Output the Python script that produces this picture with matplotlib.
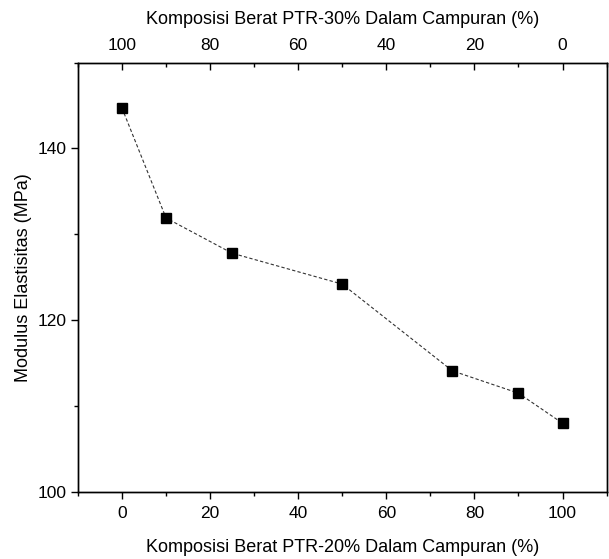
import matplotlib.pyplot as plt
from matplotlib.ticker import MultipleLocator

plt.rcParams['font.family'] = ['Liberation Sans', 'DejaVu Sans']
plt.rcParams['font.size'] = 13

# composition of PTR-20% in the blend (%) and measured modulus
ptr20 = [0, 10, 25, 50, 75, 90, 100]
modulus = [144.7, 131.9, 127.8, 124.2, 114.1, 111.5, 108.0]

fig = plt.figure(figsize=(6.09, 5.59), dpi=100)
ax = fig.add_axes([0.128, 0.120, 0.868, 0.768])

ax.plot(ptr20, modulus, color='#333333', lw=0.8, ls=(0, (3, 2)),
        marker='s', ms=7, mfc='black', mec='black')

ax.set_xlim(-10, 110)
ax.set_ylim(100, 150)
ax.set_xticks([0, 20, 40, 60, 80, 100])
ax.xaxis.set_minor_locator(MultipleLocator(10))
ax.set_yticks([100, 120, 140])
ax.yaxis.set_minor_locator(MultipleLocator(10))
ax.tick_params(which='major', direction='out', length=5, width=1, labelsize=12.5)
ax.tick_params(which='minor', direction='out', length=3, width=1)
ax.tick_params(axis='x', pad=5)
ax.set_xlabel('Komposisi Berat PTR-20% Dalam Campuran (%)', labelpad=13)
ax.set_ylabel('Modulus Elastisitas (MPa)', labelpad=4)

# top axis: PTR-30% share is the complement
ax2 = ax.twiny()
ax2.set_xlim(110, -10)
ax2.set_xticks([100, 80, 60, 40, 20, 0])
ax2.xaxis.set_minor_locator(MultipleLocator(10))
ax2.tick_params(which='major', direction='in', length=5, width=1, pad=7, labelsize=12.5)
ax2.tick_params(which='minor', direction='in', length=3, width=1)
ax2.set_xlabel('Komposisi Berat PTR-30% Dalam Campuran (%)', labelpad=10)

for a in (ax, ax2):
    for s in a.spines.values():
        s.set_linewidth(1)

fig.savefig('out.png', dpi=100)
